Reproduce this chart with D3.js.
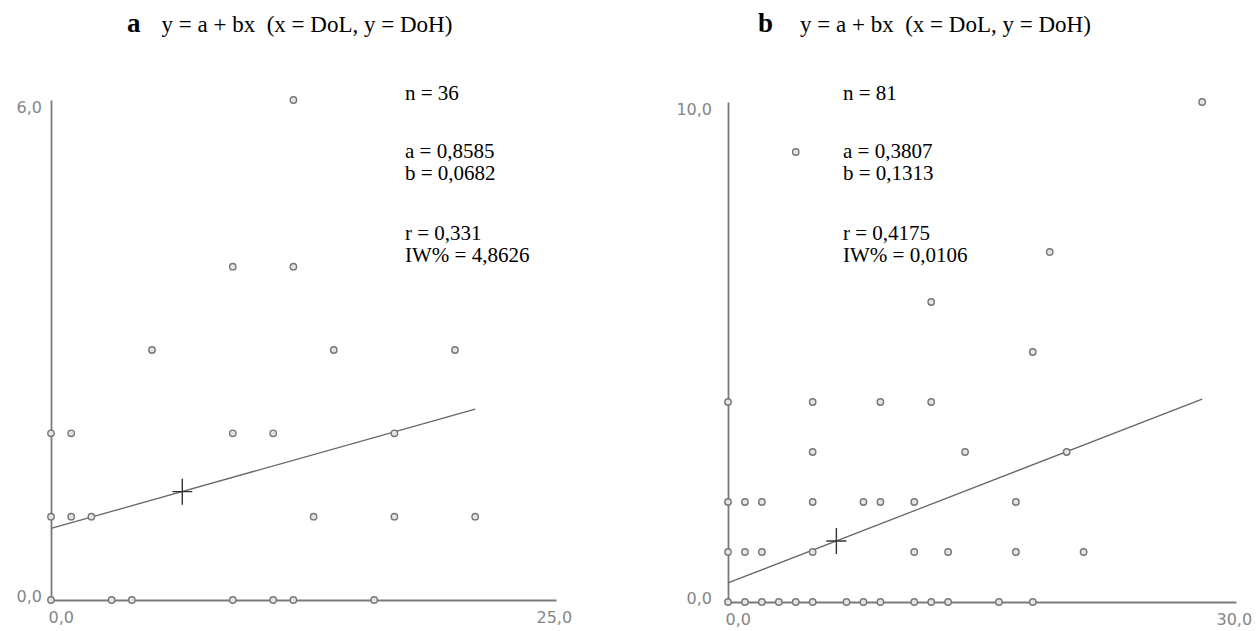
<!DOCTYPE html>
<html>
<head>
<meta charset="utf-8">
<script src="https://cdn.jsdelivr.net/npm/d3@7/dist/d3.min.js"></script>
<style>
  html, body { margin: 0; padding: 0; background: #fff; }
  svg { display: block; }
  .tick-label { font-family: "DejaVu Sans", sans-serif; font-size: 16px; fill: #858585; }
  .title { font-family: "Liberation Serif", "Times New Roman", serif; font-size: 23px; fill: #000; }
  .stats { font-family: "Liberation Serif", "Times New Roman", serif; font-size: 21px; fill: #000; }
</style>
</head>
<body>
<svg id="chart" width="1258" height="631"></svg>
<script>
// Panel a: DoL (x) vs DoH (y), n = 36
const xA = [12, 9, 12, 5, 14, 20, 0, 1, 9, 11, 17, 0, 1, 2, 13, 17, 21, 0, 3, 4, 9, 11, 12, 16];
const yA = [6, 4, 4, 3, 3, 3, 2, 2, 2, 2, 2, 1, 1, 1, 1, 1, 1, 0, 0, 0, 0, 0, 0, 0];
const coefA = [0.8585, 0.0682];          // intercept a, slope b
const meanA = [6.5, 1.30];               // centroid (x̄, ȳ)
const domainA = [25, 6];                 // x max, y max
const statsA = ["n = 36", "a = 0,8585", "b = 0,0682", "r = 0,331", "IW% = 4,8626"];

// Panel b: DoL (x) vs DoH (y), n = 81
const xB = [28, 4, 19, 12, 18, 0, 5, 9, 12, 5, 14, 20,
            0, 1, 2, 5, 8, 9, 11, 17,
            0, 1, 2, 5, 11, 13, 17, 21,
            0, 1, 2, 3, 4, 5, 7, 8, 9, 11, 12, 13, 16, 18];
const yB = [10, 9, 7, 6, 5, 4, 4, 4, 4, 3, 3, 3,
            2, 2, 2, 2, 2, 2, 2, 2,
            1, 1, 1, 1, 1, 1, 1, 1,
            0, 0, 0, 0, 0, 0, 0, 0, 0, 0, 0, 0, 0, 0];
const coefB = [0.3807, 0.1313];
const meanB = [6.4, 1.22];
const domainB = [30, 10];
const statsB = ["n = 81", "a = 0,3807", "b = 0,1313", "r = 0,4175", "IW% = 0,0106"];

const titleText = "y = a + bx\u00a0\u00a0(x = DoL, y = DoH)";
const panelLetters = ["a", "b"];

const svg = d3.select("#chart");
const fmt = v => d3.format(".1f")(v).replace(".", ",");

function drawPanel(cfg) {
  const { xs, ys, coef, mean, domain, stats, letter, x0, x1, y0, y1,
          titleX, titleGap, statsX, yLabelGap } = cfg;
  const x = d3.scaleLinear().domain([0, domain[0]]).range([x0, x1]);
  const y = d3.scaleLinear().domain([0, domain[1]]).range([y0, y1]);
  const g = svg.append("g");

  // heading
  const t = g.append("text").attr("class", "title").attr("x", titleX).attr("y", 32);
  t.append("tspan").attr("font-weight", "bold").attr("font-size", 27).text(letter);
  t.append("tspan").attr("dx", titleGap).text(titleText);

  // axes
  const yAxis = d3.axisLeft(y).tickValues([0, domain[1]]).tickSize(0).tickFormat(fmt);
  const xAxis = d3.axisBottom(x).tickValues([0, domain[0]]).tickSize(0).tickFormat(fmt);

  const gy = g.append("g").attr("transform", `translate(${x(0)},0)`).call(yAxis);
  const gx = g.append("g").attr("transform", `translate(0,${y(0)})`).call(xAxis);
  [gy, gx].forEach(a => {
    a.select(".domain").attr("stroke", "#7a7a7a").attr("stroke-width", 1.8);
    a.selectAll("text").attr("class", "tick-label").attr("fill", null)
      .attr("font-size", null).attr("font-family", null);
  });
  gy.selectAll(".tick text").attr("x", -yLabelGap)
    .attr("dy", d => d === 0 ? "0.1em" : "0.75em");
  gx.selectAll(".tick text").attr("text-anchor", "start")
    .attr("y", 12).attr("dy", "0.71em")
    .attr("x", d => d === 0 ? -3 : -20);

  // regression line over the observed x range
  const xMax = d3.max(xs);
  g.append("line")
    .attr("x1", x(0)).attr("y1", y(coef[0]))
    .attr("x2", x(xMax)).attr("y2", y(coef[0] + coef[1] * xMax))
    .attr("stroke", "#666").attr("stroke-width", 1.3);

  // observations
  g.append("g").selectAll("circle")
    .data(xs.map((v, i) => [v, ys[i]]))
    .join("circle")
    .attr("cx", d => x(d[0])).attr("cy", d => y(d[1])).attr("r", 3.2)
    .attr("fill", "#e4e4e4").attr("stroke", "#777").attr("stroke-width", 1.4);

  // centroid cross
  const cx = x(mean[0]), cy = y(mean[1]);
  g.append("path")
    .attr("d", `M${cx - 10},${cy}H${cx + 10}M${cx},${cy - 13}V${cy + 13}`)
    .attr("stroke", "#333").attr("stroke-width", 1.4).attr("fill", "none");

  // statistics block
  const rows = [100, 158, 180, 240, 262];
  g.append("g").selectAll("text").data(stats).join("text")
    .attr("class", "stats").attr("x", statsX).attr("y", (d, i) => rows[i]).text(d => d);
}

drawPanel({ xs: xA, ys: yA, coef: coefA, mean: meanA, domain: domainA, stats: statsA,
  letter: panelLetters[0], x0: 51, x1: 556, y0: 600, y1: 100,
  titleX: 127, titleGap: 21, statsX: 405, yLabelGap: 9 });
drawPanel({ xs: xB, ys: yB, coef: coefB, mean: meanB, domain: domainB, stats: statsB,
  letter: panelLetters[1], x0: 728, x1: 1236, y0: 602, y1: 102,
  titleX: 758, titleGap: 27, statsX: 843, yLabelGap: 16 });
</script>
</body>
</html>
